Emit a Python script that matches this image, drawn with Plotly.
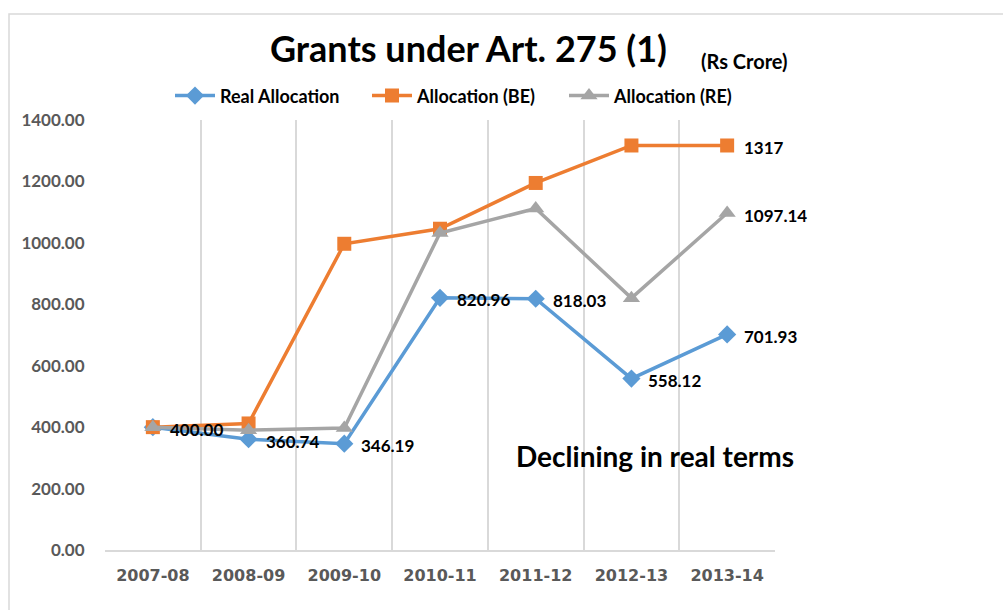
import plotly.graph_objects as go

# Financial years on the category axis
years = ["2007-08", "2008-09", "2009-10", "2010-11", "2011-12", "2012-13", "2013-14"]

# Allocations in Rs crore
real_allocation = [400.00, 360.74, 346.19, 820.96, 818.03, 558.12, 701.93]
allocation_be = [400, 412, 997, 1046, 1195, 1317, 1317]
allocation_re = [400, 390, 397, 1032, 1112, 820, 1097.14]

# Value labels shown beside the points (None = no label)
real_labels = ["400.00", "360.74", "346.19", "820.96", "818.03", "558.12", "701.93"]
be_labels = [None, None, None, None, None, None, "1317"]
re_labels = [None, None, None, None, None, None, "1097.14"]

BLUE = "#5B9BD5"
ORANGE = "#ED7D31"
GREY = "#A5A5A5"
FONT = "Lato"

xpos = list(range(len(years)))

fig = go.Figure()
series = [
    ("Real Allocation", real_allocation, BLUE, "diamond", 14),
    ("Allocation (BE)", allocation_be, ORANGE, "square", 14),
    ("Allocation (RE)", allocation_re, GREY, "triangle-up", 15),
]
for name, values, color, symbol, size in series:
    fig.add_trace(go.Scatter(
        x=xpos, y=values, name=name, mode="lines+markers",
        line=dict(color=color, width=3.5),
        marker=dict(symbol=symbol, size=size, color=color),
        cliponaxis=False,
    ))

# Data labels placed to the right of their points
annotations = []
for values, labels in [(real_allocation, real_labels), (allocation_be, be_labels),
                       (allocation_re, re_labels)]:
    for i, (v, lab) in enumerate(zip(values, labels)):
        if lab is None:
            continue
        annotations.append(dict(
            x=xpos[i], y=v, text=lab, xref="x", yref="y",
            xanchor="left", yanchor="middle", xshift=15, yshift=-2,
            showarrow=False,
            font=dict(family=FONT, size=17, color="#000000", weight="bold"),
        ))

annotations += [
    dict(text="Grants under Art. 275 (1)", xref="paper", yref="paper",
         x=(468 - 105) / 670, y=(550 - 48) / 430, xanchor="center", yanchor="middle",
         showarrow=False, font=dict(family=FONT, size=36, color="#000000", weight="bold")),
    dict(text="(Rs Crore)", xref="paper", yref="paper",
         x=(744 - 105) / 670, y=(550 - 61) / 430, xanchor="center", yanchor="middle",
         showarrow=False, font=dict(family=FONT, size=20, color="#000000", weight="bold")),
    dict(text="Declining in real terms", xref="paper", yref="paper",
         x=(655 - 105) / 670, y=(550 - 456) / 430, xanchor="center", yanchor="middle",
         showarrow=False, font=dict(family=FONT, size=28, color="#000000", weight="bold")),
]

fig.update_layout(
    width=1003, height=610,
    margin=dict(l=105, r=228, t=120, b=60),
    paper_bgcolor="white", plot_bgcolor="white",
    showlegend=True,
    legend=dict(
        orientation="h", x=(170 - 105) / 670, y=1.056, xanchor="left", yanchor="middle",
        font=dict(family=FONT, size=18, color="#000000", weight="bold"),
        traceorder="normal", itemwidth=40, entrywidth=142, entrywidthmode="pixels",
    ),
    xaxis=dict(
        range=[-0.5, len(years) - 0.5],
        tickmode="array", tickvals=xpos, ticktext=years,
        showgrid=False, zeroline=False,
        showline=True, linecolor="#D9D9D9", linewidth=1.5,
        tickfont=dict(family="DejaVu Sans", size=16, color="#595959", weight="bold"),
        ticks="outside", ticklen=10, tickcolor="rgba(0,0,0,0)",
        minor=dict(
            tickmode="array",
            tickvals=[i - 0.5 for i in range(len(years) + 1)],
            showgrid=True, gridcolor="#D9D9D9", gridwidth=1.5, ticks="",
        ),
        fixedrange=True,
    ),
    yaxis=dict(
        range=[0, 1400], tickmode="linear", tick0=0, dtick=200,
        tickformat=".2f", showgrid=False, zeroline=False, showline=False,
        tickfont=dict(family=FONT, size=17, color="#595959", weight="bold"),
        ticks="outside", ticklen=16, tickcolor="rgba(0,0,0,0)",
        fixedrange=True,
    ),
    annotations=annotations,
    shapes=[
        dict(type="rect", xref="paper", yref="paper",
             x0=(9 - 105) / 670, x1=(1100 - 105) / 670,
             y0=(550 - 700) / 430, y1=(550 - 14) / 430,
             line=dict(color="#D9D9D9", width=1.5), layer="below"),
    ],
)

fig.write_html("out.html", config={"displayModeBar": False})
